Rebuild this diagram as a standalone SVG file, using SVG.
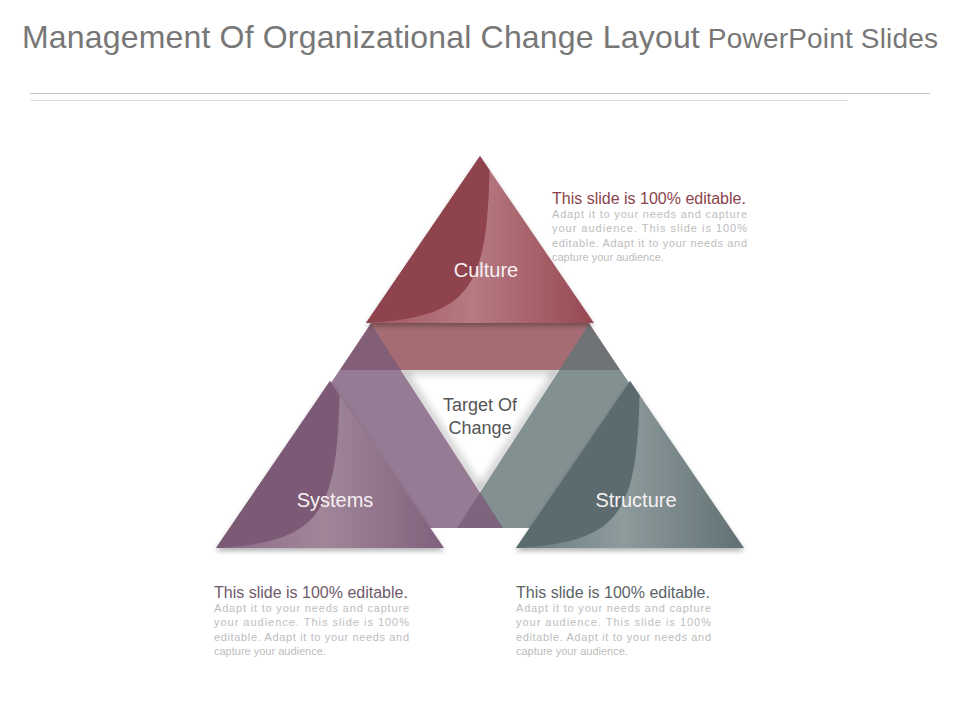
<svg xmlns="http://www.w3.org/2000/svg" width="960" height="720" viewBox="0 0 960 720">
<defs>
<style>
.title{font-family:"Liberation Sans",Arial,sans-serif;fill:#777;}
.lbl{font-family:"Liberation Sans",Arial,sans-serif;font-size:20px;fill:#f7f1f2;text-anchor:middle;}
.ctr{font-family:"Liberation Sans",Arial,sans-serif;font-size:18px;fill:#555;text-anchor:middle;}
.head{font-family:"Liberation Sans",Arial,sans-serif;font-size:16px;}
.body{font-family:"Liberation Sans",Arial,sans-serif;font-size:11px;fill:#bdbdbd;}
.band{opacity:0.8;}
</style>
<linearGradient id="gCul" x1="0" y1="0" x2="1" y2="0">
<stop offset="0" stop-color="#a0575f"/><stop offset="0.47" stop-color="#b67a82"/><stop offset="1" stop-color="#974952"/>
</linearGradient>
<linearGradient id="gSys" x1="0" y1="0" x2="1" y2="0">
<stop offset="0" stop-color="#8a6985"/><stop offset="0.47" stop-color="#a1869a"/><stop offset="1" stop-color="#80607b"/>
</linearGradient>
<linearGradient id="gStr" x1="0" y1="0" x2="1" y2="0">
<stop offset="0" stop-color="#6a7a7d"/><stop offset="0.47" stop-color="#8d9b9d"/><stop offset="1" stop-color="#617072"/>
</linearGradient>
<filter id="sh" x="-20%" y="-20%" width="140%" height="150%">
<feDropShadow dx="0" dy="3" stdDeviation="2.5" flood-color="#000" flood-opacity="0.3"/>
</filter>
<filter id="blur" x="-20%" y="-20%" width="140%" height="140%">
<feGaussianBlur stdDeviation="4"/>
</filter>
<clipPath id="hole"><polygon points="401,370 559,370 480,492"/></clipPath>
<polygon id="tri" points="0,0 114,167 -114,167"/>
</defs>
<rect width="960" height="720" fill="#fff"/>

<text class="title" x="22" y="48" textLength="916" lengthAdjust="spacing"><tspan font-size="32">Management Of Organizational Change Layout</tspan><tspan font-size="28"> PowerPoint Slides</tspan></text>
<line x1="30" y1="93.5" x2="930" y2="93.5" stroke="#c4c4c4" stroke-width="1"/>
<line x1="30" y1="100.5" x2="848" y2="100.5" stroke="#dedede" stroke-width="1"/>

<g id="connectors">
<polygon class="band" points="371,323 589,323 620,370 340,370" fill="#8f4850"/>
<polygon class="band" points="589,324 728,528 457,528" fill="#637476"/>
<polygon class="band" points="371,324 503,528 232,528" fill="#7a5a78"/>
<g clip-path="url(#hole)"><polygon points="401,370 559,370 480,492" fill="none" stroke="#8a8a8a" stroke-width="6" filter="url(#blur)" opacity="0.6"/></g>
</g>

<g id="center">
<text class="ctr" x="480" y="411">Target Of</text>
<text class="ctr" x="480" y="434">Change</text>
</g>

<g id="culture" transform="translate(480,156)">
<use href="#tri" fill="url(#gCul)" filter="url(#sh)"/>
<path d="M0,0 L-114,167 C-12,161 7,135 9.5,14 Z" fill="#8f434c"/>
<text class="lbl" x="6" y="121">Culture</text>
</g>

<g id="systems" transform="translate(330,381)">
<use href="#tri" fill="url(#gSys)" filter="url(#sh)"/>
<path d="M0,0 L-114,167 C-12,161 7,135 9.5,14 Z" fill="#7c5a76"/>
<text class="lbl" x="5" y="126">Systems</text>
</g>

<g id="structure" transform="translate(630,381)">
<use href="#tri" fill="url(#gStr)" filter="url(#sh)"/>
<path d="M0,0 L-114,167 C-12,161 7,135 9.5,14 Z" fill="#5b6b6f"/>
<text class="lbl" x="6" y="126">Structure</text>
</g>

<g id="text-top">
<text class="head" x="552" y="204" fill="#8b444d">This slide is 100% editable.</text>
<text class="body" x="552" y="218" textLength="195" lengthAdjust="spacing">Adapt it to your needs and capture</text>
<text class="body" x="552" y="232" textLength="195" lengthAdjust="spacing">your audience. This slide is 100%</text>
<text class="body" x="552" y="247" textLength="195" lengthAdjust="spacing">editable. Adapt it to your needs and</text>
<text class="body" x="552" y="261">capture your audience.</text>
</g>

<g id="text-left">
<text class="head" x="214" y="598" fill="#6f5a6c">This slide is 100% editable.</text>
<text class="body" x="214" y="612" textLength="195" lengthAdjust="spacing">Adapt it to your needs and capture</text>
<text class="body" x="214" y="626" textLength="195" lengthAdjust="spacing">your audience. This slide is 100%</text>
<text class="body" x="214" y="641" textLength="195" lengthAdjust="spacing">editable. Adapt it to your needs and</text>
<text class="body" x="214" y="655">capture your audience.</text>
</g>

<g id="text-right">
<text class="head" x="516" y="598" fill="#5b6366">This slide is 100% editable.</text>
<text class="body" x="516" y="612" textLength="195" lengthAdjust="spacing">Adapt it to your needs and capture</text>
<text class="body" x="516" y="626" textLength="195" lengthAdjust="spacing">your audience. This slide is 100%</text>
<text class="body" x="516" y="641" textLength="195" lengthAdjust="spacing">editable. Adapt it to your needs and</text>
<text class="body" x="516" y="655">capture your audience.</text>
</g>
</svg>
